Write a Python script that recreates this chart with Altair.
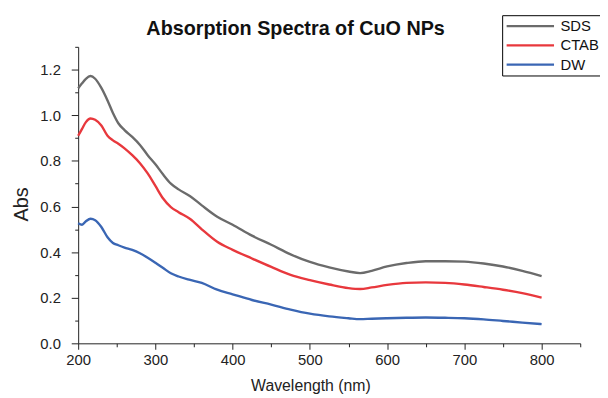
import altair as alt
import pandas as pd

wavelength = [200, 205, 210, 216, 222, 230, 238, 245, 252, 260, 270, 280, 290, 300,
              310, 320, 330, 345, 360, 380, 400, 425, 450, 475, 500, 525, 550, 565,
              580, 600, 625, 650, 675, 700, 725, 750, 775, 800]
sds = [1.118, 1.14, 1.16, 1.172, 1.16, 1.12, 1.065, 1.01, 0.965, 0.935, 0.905, 0.87,
       0.825, 0.785, 0.74, 0.70, 0.675, 0.645, 0.605, 0.555, 0.52, 0.472, 0.432, 0.39,
       0.357, 0.333, 0.315, 0.308, 0.318, 0.337, 0.352, 0.36, 0.36, 0.358, 0.35, 0.337,
       0.318, 0.295]
ctab = [0.91, 0.94, 0.97, 0.986, 0.98, 0.955, 0.91, 0.89, 0.875, 0.855, 0.825, 0.79,
        0.745, 0.69, 0.635, 0.597, 0.575, 0.545, 0.5, 0.445, 0.41, 0.372, 0.335, 0.30,
        0.277, 0.258, 0.242, 0.238, 0.245, 0.256, 0.265, 0.267, 0.265, 0.258, 0.247,
        0.235, 0.22, 0.2]
dw = [0.527, 0.52, 0.535, 0.546, 0.54, 0.51, 0.465, 0.44, 0.43, 0.42, 0.41, 0.395,
      0.375, 0.353, 0.33, 0.307, 0.293, 0.278, 0.265, 0.235, 0.215, 0.19, 0.17, 0.148,
      0.13, 0.118, 0.11, 0.106, 0.108, 0.11, 0.112, 0.113, 0.112, 0.11, 0.105, 0.098,
      0.091, 0.084]
series_names = ["SDS", "CTAB", "DW"]
series_colors = ["#6b6b6b", "#e8383d", "#3a66b4"]

x_ticks = list(range(200, 851, 50))
y_ticks = [round(i * 0.1, 1) for i in range(0, 14)]

rows = []
for name, vals in zip(series_names, [sds, ctab, dw]):
    for w, v in zip(wavelength, vals):
        rows.append({"Wavelength": w, "Abs": v, "Series": name})
df = pd.DataFrame(rows)

FONT = "Liberation Sans"

chart = alt.Chart(df).mark_line(strokeWidth=2.4, interpolate="monotone").encode(
    x=alt.X(
        "Wavelength:Q",
        scale=alt.Scale(domain=[200, 850], nice=False, zero=False),
        axis=alt.Axis(
            title="Wavelength (nm)",
            values=x_ticks,
            labelExpr="datum.value % 100 == 0 ? datum.label : ''",
            labelOverlap=False,
            labelFlush=False,
            labelPadding=3,
            tickSize={"condition": {"test": "datum.value % 100 != 0", "value": 3.5}, "value": 6},
            grid=False,
            titleX=235,
            titleY=43,
            titleBaseline="middle",
            titleFontSize=16,
        ),
    ),
    y=alt.Y(
        "Abs:Q",
        scale=alt.Scale(domain=[0, 1.3], nice=False),
        axis=alt.Axis(
            title="Abs",
            values=y_ticks,
            format=".1f",
            labelExpr="round(datum.value * 10) % 2 == 0 ? datum.label : ''",
            labelOverlap=False,
            labelFlush=False,
            labelPadding=11,
            tickSize={"condition": {"test": "round(datum.value * 10) % 2 != 0", "value": 3.5}, "value": 7},
            grid=False,
            titleX=-57,
            titleY=159,
            titleBaseline="middle",
            titleAlign="center",
            titleAngle=-90,
            titleFontSize=20,
        ),
    ),
    color=alt.Color(
        "Series:N",
        sort=series_names,
        scale=alt.Scale(domain=series_names, range=series_colors),
        legend=alt.Legend(
            title=None,
            orient="none",
            legendX=429,
            legendY=-32,
            symbolType="stroke",
            symbolSize=2300,
            symbolStrokeWidth=2.4,
            clipHeight=16,
            labelFont=FONT,
            labelFontSize=15,
            labelColor="#111111",
            strokeColor="#000000",
            fillColor="#ffffff",
            padding=3,
            rowPadding=3.5,
            labelOffset=5,
        ),
    ),
).properties(
    width=508,
    height=300,
    autosize=alt.AutoSizeParams(type="none"),
    padding={"left": 71, "top": 37, "right": 20, "bottom": 50},
    title=alt.Title(
        "Absorption Spectra of CuO NPs",
        font=FONT,
        fontSize=20,
        fontWeight="bold",
        color="#111111",
        anchor="middle",
        dx=-34,
        dy=35,
        offset=10,
    ),
).configure_view(
    strokeWidth=0
).configure_axis(
    domainColor="#222222",
    tickColor="#222222",
    labelColor="#222222",
    titleColor="#222222",
    labelFont=FONT,
    titleFont=FONT,
    labelFontSize=15,
    titleFontWeight="normal",
)

chart.save("out.html", embed_options={"renderer": "svg", "actions": False})
